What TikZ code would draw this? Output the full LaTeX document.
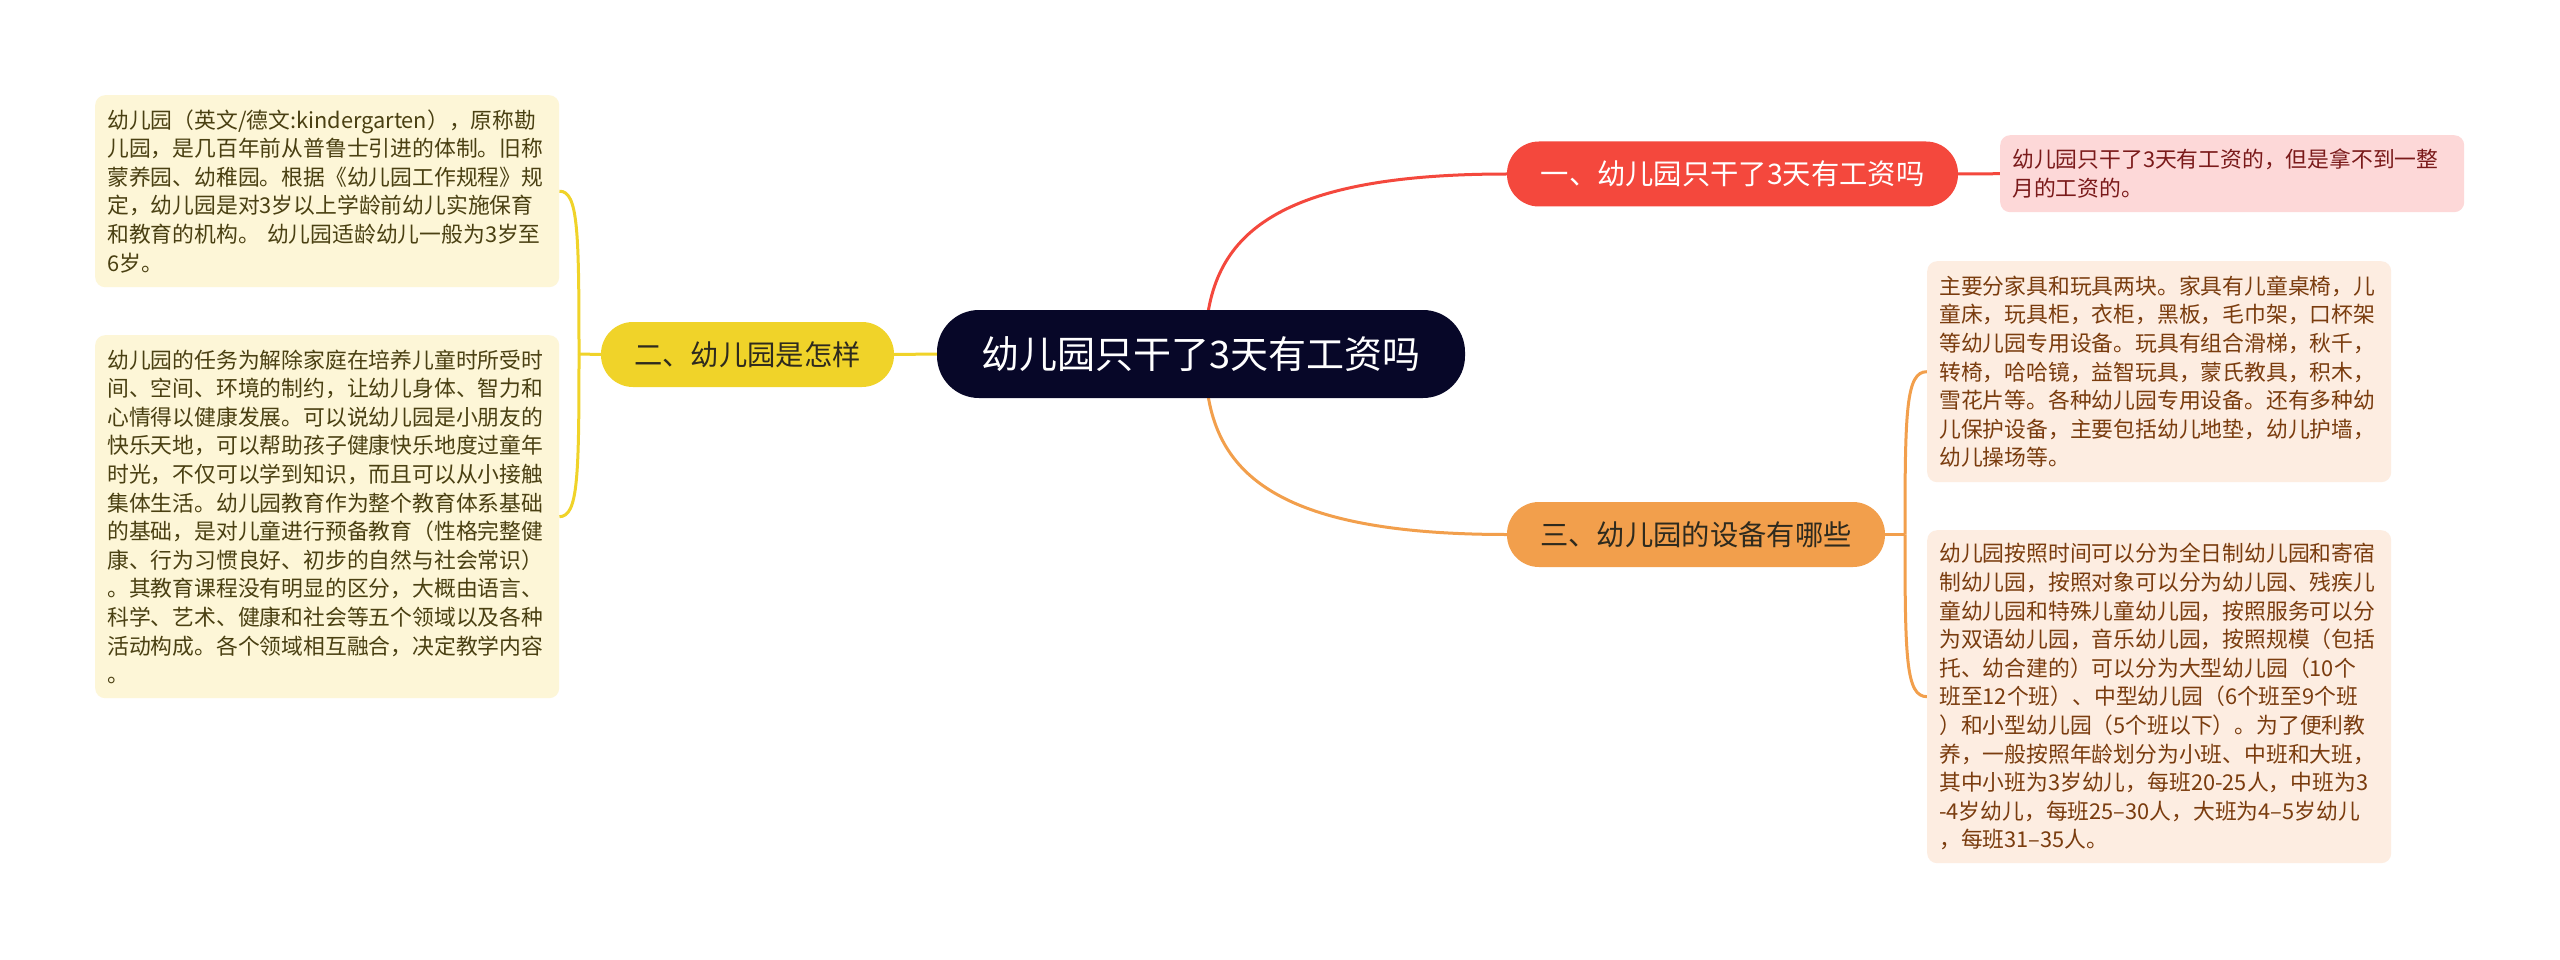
\documentclass[tikz,border=0pt]{standalone}
\usepackage{fontspec}
\setmainfont{Noto Sans CJK SC}
\usetikzlibrary{backgrounds}
\definecolor{centerc}{HTML}{070728}
\definecolor{redc}{HTML}{F4483D}
\definecolor{redfill}{HTML}{FDD8D8}
\definecolor{redtext}{HTML}{7A1A1A}
\definecolor{orgc}{HTML}{F29F4C}
\definecolor{orgfill}{HTML}{FDEDE1}
\definecolor{orgtext}{HTML}{7A3C0E}
\definecolor{yelc}{HTML}{F0D329}
\definecolor{yelfill}{HTML}{FDF6D7}
\definecolor{yeltext}{HTML}{4A4012}
\definecolor{darktext}{HTML}{2E2A1E}
\begin{document}
\begin{tikzpicture}[x=1pt,y=-1pt,
  leaf/.style={rounded corners=10pt, anchor=north west, align=left,
    text width=440pt, inner xsep=12pt, inner ysep=0pt,
    font=\fontsize{21.8pt}{28.6pt}\selectfont},
  pill/.style={rounded corners=32pt, inner sep=0pt, minimum height=65pt,
    font=\fontsize{28.3pt}{34pt}\selectfont},
  conn/.style={line width=3pt}]
\useasboundingbox (0,0) rectangle (2560,960);

% center
\node[rounded corners=42pt, fill=centerc, text=white, inner sep=0pt,
  minimum width=528pt, minimum height=88pt,
  font=\fontsize{38pt}{44pt}\selectfont] (c) at (1201,354) {幼儿园只干了3天有工资吗};

% branches
\node[pill, fill=redc, text=white, minimum width=451pt] (r1) at (1732.5,174) {一、幼儿园只干了3天有工资吗};
\node[pill, fill=yelc, text=darktext, minimum width=293pt] (y1) at (747.5,354.5) {二、幼儿园是怎样};
\node[pill, fill=orgc, text=darktext, minimum width=378pt] (o1) at (1696,534.5) {三、幼儿园的设备有哪些};

% leaves
\node[leaf, fill=yelfill, text=yeltext, minimum height=192pt] (l1) at (95,95) {%
幼儿园（英文/德文:kindergarten），原称勘\\
儿园，是几百年前从普鲁士引进的体制。旧称\\
蒙养园、幼稚园。根据《幼儿园工作规程》规\\
定，幼儿园是对3岁以上学龄前幼儿实施保育\\
和教育的机构。~幼儿园适龄幼儿一般为3岁至\\
6岁。};

\node[leaf, fill=yelfill, text=yeltext, minimum height=363pt] (l2) at (95,335) {%
幼儿园的任务为解除家庭在培养儿童时所受时\\
间、空间、环境的制约，让幼儿身体、智力和\\
心情得以健康发展。可以说幼儿园是小朋友的\\
快乐天地，可以帮助孩子健康快乐地度过童年\\
时光，不仅可以学到知识，而且可以从小接触\\
集体生活。幼儿园教育作为整个教育体系基础\\
的基础，是对儿童进行预备教育（性格完整健\\
康、行为习惯良好、初步的自然与社会常识）\\
。其教育课程没有明显的区分，大概由语言、\\
科学、艺术、健康和社会等五个领域以及各种\\
活动构成。各个领域相互融合，决定教学内容\\
。};

\node[leaf, fill=redfill, text=redtext, minimum height=77pt] (r2) at (2000,135) {%
幼儿园只干了3天有工资的，但是拿不到一整\\
月的工资的。};

\node[leaf, fill=orgfill, text=orgtext, minimum height=221pt] (o2) at (1927,261) {%
主要分家具和玩具两块。家具有儿童桌椅，儿\\
童床，玩具柜，衣柜，黑板，毛巾架，口杯架\\
等幼儿园专用设备。玩具有组合滑梯，秋千，\\
转椅，哈哈镜，益智玩具，蒙氏教具，积木，\\
雪花片等。各种幼儿园专用设备。还有多种幼\\
儿保护设备，主要包括幼儿地垫，幼儿护墙，\\
幼儿操场等。};

\node[leaf, fill=orgfill, text=orgtext, minimum height=333pt] (o3) at (1927,530) {%
幼儿园按照时间可以分为全日制幼儿园和寄宿\\
制幼儿园，按照对象可以分为幼儿园、残疾儿\\
童幼儿园和特殊儿童幼儿园，按照服务可以分\\
为双语幼儿园，音乐幼儿园，按照规模（包括\\
托、幼合建的）可以分为大型幼儿园（10个\\
班至12个班）、中型幼儿园（6个班至9个班\\
）和小型幼儿园（5个班以下）。为了便利教\\
养，一般按照年龄划分为小班、中班和大班，\\
其中小班为3岁幼儿，每班20-25人，中班为3\\
-4岁幼儿，每班25–30人，大班为4–5岁幼儿\\
，每班31–35人。};

\coordinate (cs) at (1205,354);
\coordinate (yb) at (579,354);
\coordinate (ob) at (1905,534.5);

\begin{pgfonlayer}{background}
\fill[white] (0,0) rectangle (2560,960);
% center to branches
\draw[conn, redc] (cs) .. controls (1205,250) and (1250,174) .. (r1.west);
\draw[conn, orgc] (cs) .. controls (1205,458) and (1250,534.5) .. (o1.west);
\draw[conn, yelc] (c.west) -- (y1.east);
% red leaf
\draw[conn, redc] (r1.east) -- (r2.west);
% yellow bracket
\draw[conn, yelc] (y1.west) -- (yb);
\draw[conn, yelc] (yb) .. controls (579,230) and (578,191) .. (l1.east);
\draw[conn, yelc] (yb) .. controls (579,478) and (578,516.5) .. (l2.east);
% orange bracket
\draw[conn, orgc] (o1.east) -- (ob);
\draw[conn, orgc] (ob) .. controls (1905,410) and (1906,371.5) .. (o2.west);
\draw[conn, orgc] (ob) .. controls (1905,660) and (1906,696.5) .. (o3.west);
\end{pgfonlayer}
\end{tikzpicture}
\end{document}
